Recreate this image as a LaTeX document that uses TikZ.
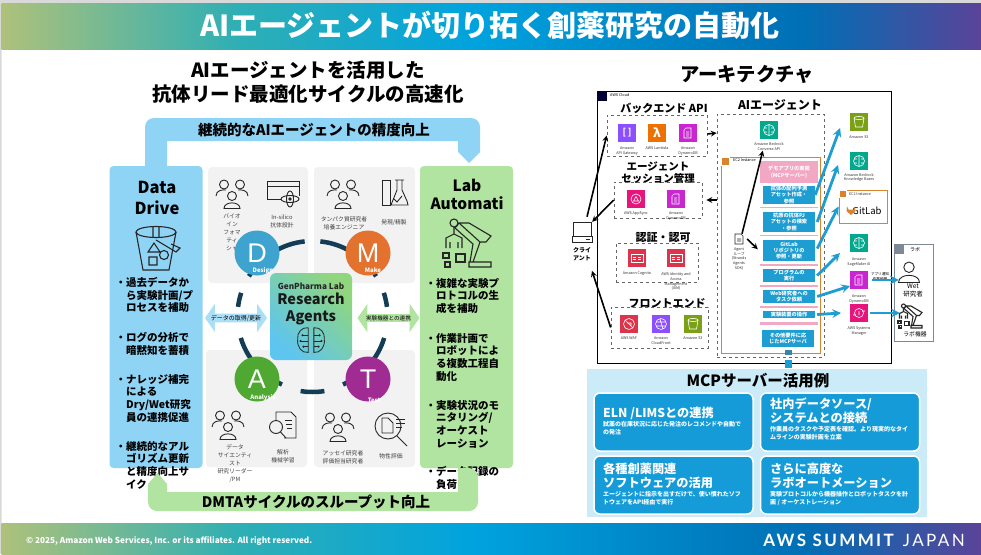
\documentclass[tikz,border=0pt]{standalone}
\usepackage{fontspec}
\setmainfont{Noto Sans CJK JP}
\newfontfamily\awsfont[LetterSpace=14]{Lato}
\newfontfamily\phasefont{Liberation Sans}
\usetikzlibrary{arrows.meta, positioning, shapes.arrows}

\definecolor{datablue}{HTML}{8FD4F5}
\definecolor{labgreen}{HTML}{B1E3A1}
\definecolor{quadgray}{HTML}{F2F2F2}
\definecolor{ringnavy}{HTML}{123D55}
\definecolor{flowblue}{HTML}{1E9DD2}
\definecolor{cardblue}{HTML}{159CD8}
\definecolor{mcpback}{HTML}{CBEBF9}
\definecolor{ecorange}{HTML}{D8832E}
\definecolor{demopink}{HTML}{F2A7C3}
\definecolor{awspurple}{HTML}{8C4FFF}
\definecolor{awsorange}{HTML}{ED7100}
\definecolor{awsmagenta}{HTML}{C925D1}
\definecolor{awspink}{HTML}{E7157B}
\definecolor{awsred}{HTML}{DD344C}
\definecolor{awsgreen}{HTML}{7AA116}
\definecolor{awsteal}{HTML}{01A88D}
\definecolor{labframe}{HTML}{7D8998}
\definecolor{phaseblue}{HTML}{3FA3D0}
\definecolor{phaseorange}{HTML}{E2722E}
\definecolor{phasegreen}{HTML}{4EA832}
\definecolor{phasepurple}{HTML}{A02B93}
\definecolor{agentblue}{HTML}{5EC5F0}
\definecolor{agentgreen}{HTML}{90D67C}
\definecolor{barA}{HTML}{AEC17A}
\definecolor{barB}{HTML}{2FAFB4}
\definecolor{barC}{HTML}{00A3DE}
\definecolor{barD}{HTML}{006FB5}
\definecolor{barE}{HTML}{5A4398}
\pgfdeclarehorizontalshading{awsbar}{100bp}{color(0bp)=(barA); color(25bp)=(barA); color(37bp)=(barB); color(49bp)=(barC); color(66bp)=(barD); color(75bp)=(barE); color(100bp)=(barE)}

\tikzset{
  quad/.style={fill=quadgray, rounded corners=4pt, inner sep=0},
  panel/.style={rounded corners=4pt, inner sep=0, minimum width=93pt, minimum height=302pt},
  phase/.style={circle, minimum size=45pt, inner sep=0, text=white, font=\phasefont\fontsize{27}{27}\selectfont},
  phasetag/.style={text=white, inner sep=0, font=\bfseries\fontsize{6}{6}\selectfont},
  bullet/.style={anchor=north west, align=left, inner sep=0, font=\bfseries\fontsize{10.5}{12.7}\selectfont},
  small/.style={inner sep=0, align=center, text=black!75, font=\fontsize{5.8}{8}\selectfont},
  svc/.style={minimum size=17.5pt, inner sep=0, text=white, font=\bfseries\fontsize{9}{9}\selectfont},
  svclabel/.style={inner sep=0, align=center, text=black!80, font=\fontsize{3.7}{4.9}\selectfont},
  group/.style={draw=black!60, dashed, line width=.7pt, inner sep=0},
  grouptitle/.style={inner sep=0, align=center, font=\bfseries\fontsize{11}{11}\selectfont},
  tool/.style={fill=flowblue, inner sep=0, minimum width=52pt, text=white, align=center, font=\bfseries\fontsize{5.2}{6.3}\selectfont},
  rule/.style={fill=demopink, inner sep=0, minimum width=58pt},
  card/.style={fill=cardblue, draw=white, line width=1.5pt, rounded corners=6pt, inner sep=0, minimum width=159pt, minimum height=58pt},
  cardhead/.style={anchor=west, inner sep=0, align=left, text=white, font=\bfseries\fontsize{12.2}{14}\selectfont},
  cardtext/.style={anchor=west, inner sep=0, align=left, text=white, font=\bfseries\fontsize{6}{8}\selectfont},
  blackflow/.style={-stealth, line width=1.6pt, black},
  blueflow/.style={-stealth, line width=2.8pt, flowblue},
  icon/.style={line width=.9pt, black!85},
  glyph/.style={line width=.6pt, white},
  people/.pic={
    \draw [icon] (-8,-8.5) circle [radius=4.5] (8,-8.5) circle [radius=4.5] (0,3) circle [radius=4.5];
    \draw [icon] (-16,3) .. controls (-16,-3) and (-9,-3.5) .. (-6,-3);
    \draw [icon] (16,3) .. controls (16,-3) and (9,-3.5) .. (6,-3);
    \draw [icon] (-8,15.5) .. controls (-8,8) and (8,8) .. (8,15.5) -- cycle;
  },
  person/.pic={
    \draw [icon] (0,-5) circle [radius=5.5];
    \draw [icon] (-11,11) .. controls (-11,1) and (11,1) .. (11,11) -- cycle;
  },
  windowatom/.pic={
    \draw [icon] (-16,6) -- (-16,-12) -- (16,-12) -- (16,3) (-16,-7) -- (16,-7) (-16,6) -- (-2,6);
    \draw [icon] (7,6) circle [x radius=9, y radius=3.5] (7,6) circle [x radius=3.5, y radius=8];
    \fill [black!85] (7,6) circle [radius=1.8];
  },
  flask/.pic={
    \draw [icon] (-12,-13) -- (-12,12) -- (-4,12) -- (-4,-13) -- cycle;
    \draw [icon] (3,-13) -- (3,-3) -- (-3,12) -- (14,12) -- (13,8) -- (8,-3) -- (8,-13) (1,-13) -- (10,-13) (0,6) -- (3,9) -- (8,3);
  },
  docscan/.pic={
    \draw [icon] (-6,-5) -- (-6,-13) -- (9,-13) -- (14,-8) -- (14,13) -- (2,13);
    \draw [icon] (-6,2) circle [radius=6.5] (-1.5,7) -- (4,13);
    \draw [icon] (3,-5) -- (10,-5) (4,-1) -- (10,-1) (5,3) -- (10,3);
  },
  docglass/.pic={
    \draw [icon] (-3,0) circle [radius=13];
    \draw [icon] (-9,-8) -- (-3,-8) -- (2,-3) -- (2,7) -- (-9,7) -- cycle (6,10) -- (16,20);
    \draw [icon] (5,-7) -- (14,-7) (5,-3) -- (14,-3) (5,1) -- (11,1);
  },
  brain/.pic={
    \draw [icon, line width=.8pt] (-3,-14) .. controls (-10,-15) and (-15,-8) .. (-14,-2) .. controls (-15,6) and (-10,13) .. (-3,12) -- (-3,-14) (3,-14) .. controls (10,-15) and (15,-8) .. (14,-2) .. controls (15,6) and (10,13) .. (3,12) -- (3,-14);
    \draw [icon, line width=.8pt] (-3,-6) -- (-9,-6) (-3,0) -- (-11,0) (-3,6) -- (-8,6) (3,-6) -- (9,-6) (3,0) -- (11,0) (3,6) -- (8,6);
    \fill [black!85] (-9,-6) circle [radius=1.2] (-11,0) circle [radius=1.2] (-8,6) circle [radius=1.2] (9,-6) circle [radius=1.2] (11,0) circle [radius=1.2] (8,6) circle [radius=1.2];
  },
  bigbucket/.pic={
    \draw [icon, line width=1.1pt] (0,-15) circle [x radius=20, y radius=5.5];
    \draw [icon, line width=1.1pt] (-20,-15) -- (-13,23) -- (13,23) -- (20,-15) (-3,-20) -- (-3,-10) (3,-20) -- (3,-10);
    \draw [icon, line width=1.1pt] (-8,5) -- (-2,-4) -- (4,5) -- cycle (-7,10) rectangle (1,18) (8,8) circle [radius=4.5] (0,-7) -- (20,5) -- (24,1) -- (15,-3);
  },
  bigrobot/.pic={
    \draw [icon, line width=1.1pt] (2,22) -- (24,22) -- (24,17) -- (2,17) -- cycle (6,17) -- (13,-3) -- (-8,-22) -- (-12,-17) -- (6,-1) -- (3,17) (13,-3) -- (19,-3) -- (24,-9) -- (2,-22) -- (-8,-22);
    \draw [icon, line width=1.1pt] (-13,-22) circle [radius=4] (-13,-18) -- (-13,-11) (-21,3) -- (-21,-7) -- (-13,-11) -- (-5,-7) -- (-5,3) (-17,3) -- (-17,-3) (-9,3) -- (-9,-3);
    \draw [icon, line width=1.1pt] (-24,8) rectangle (-18,13) (-11,9) rectangle (-2,17) (-22,17) rectangle (-17,22);
  },
  monitor/.pic={
    \draw [icon] (-9,-10) rectangle (9,4) (-10,4) rectangle (10,10);
    \draw [icon] (4,7) -- (8,7);
  },
  sheet/.pic={
    \draw [icon, line width=.6pt] (-4,-5) -- (2,-5) -- (4,-3) -- (4,5) -- (-4,5) -- cycle (-2,0) -- (2,0) (-2,2) -- (2,2);
  },
  gbucket/.pic={
    \draw [glyph] (0,-4) circle [x radius=5, y radius=1.6] (-5,-4) -- (-3.5,5) -- (3.5,5) -- (5,-4);
  },
  gbrain/.pic={
    \draw [glyph] (0,0) circle [radius=5.5] (0,-5.5) -- (0,5.5) (-5,-2) -- (-2,-2) (5,-2) -- (2,-2) (-5,2) -- (-2,2) (5,2) -- (2,2);
  },
  gdb/.pic={
    \draw [glyph] (-4,-3) -- (-4,5) -- (3,5) -- (3,-5) -- (-2,-5) -- cycle (-2,-1) -- (1,-1) (-2,1) -- (1,1) (-2,3) -- (1,3);
  },
  gsync/.pic={
    \draw [glyph] (0,0) circle [radius=5] (-2.5,2) -- (0,-2.5) -- (2.5,2) -- cycle;
  },
  gcard/.pic={
    \draw [glyph] (-6,-4) rectangle (6,4) (-4,-1) -- (-1,-1) (-4,1) -- (-1,1) (1,-1) -- (4,-1) (1,1) -- (4,1);
  },
  gshield/.pic={
    \draw [glyph] (0,0) circle [radius=5.5] (-4,-4) -- (4,4) (-2,-1) -- (2,-1) -- (2,2);
  },
  gglobe/.pic={
    \draw [glyph] (0,0) circle [radius=5.5] (-5,-2) -- (5,-2) (-5,2) -- (5,2) (-1,-5) -- (2,5);
  },
  gcloud/.pic={
    \draw [glyph] (0,0) circle [radius=4.5] (-6,2) -- (-3,2) (3,-2) -- (6,-2) (0,-2) -- (0,2);
  }
}

\begin{document}
\begin{tikzpicture} [x=1pt, y=-1pt, on grid]
\useasboundingbox (0,0) rectangle (981,554);
\fill [white] (0,0) rectangle (981,554);
\fill [black!15] (0,0) rectangle (981,3.5) (0,0) rectangle (1.5,554);

% bars
\shade [shading=awsbar] (1.5,3.5) rectangle (981,49);
\shade [shading=awsbar] (1.5,523) rectangle (981,554);
\node (maintitle) [text=white, inner sep=0, font=\bfseries\fontsize{29}{29}\selectfont] at (490,25) {AIエージェントが切り拓く創薬研究の自動化};
\node (copyright) [anchor=west, text=white, inner sep=0, font=\bfseries\fontsize{8.2}{8.2}\selectfont] at (26,541) {© 2025, Amazon Web Services, Inc. or its affiliates. All right reserved.};
\node (summit) [anchor=east, text=white, inner sep=0, font=\awsfont\fontsize{17}{17}\selectfont] at (965,540) {\textbf{AWS SUMMIT} JAPAN};

\node (lefttitle) [inner sep=0, align=center, font=\bfseries\fontsize{19.5}{24}\selectfont] at (308,82) {AIエージェントを活用した\\抗体リード最適化サイクルの高速化};
\node (righttitle) [inner sep=0, font=\bfseries\fontsize{19.3}{19.3}\selectfont] at (747,74) {アーキテクチャ};

% quadrants
\node (quadD) [quad, minimum width=100pt, minimum height=116pt] at (258,225) {};
\node (quadM) [quad, minimum width=101pt, minimum height=116pt] at (364.5,225) {};
\node (quadA) [quad, minimum width=101pt, minimum height=117pt] at (256.5,408.5) {};
\node (quadT) [quad, minimum width=101pt, minimum height=117pt] at (364.5,408.5) {};

\pic at (232,193) {people};
\pic at (283,193) {windowatom};
\pic at (343,193) {people};
\pic at (394,193) {flask};
\pic at (228,424) {people};
\pic at (282,425) {docscan};
\pic at (338,426) {people};
\pic at (391,426) {docglass};

\node (roleD) [small, anchor=north] at (232,214) {バイオ\\イン\\フォマ\\ティ\\シャ};
\node (workD) [small] at (282,221) {In-silico\\抗体設計};
\node (roleM) [small] at (344,223) {タンパク質研究者\\培養エンジニア};
\node (workM) [small] at (394,223) {発現/精製};
\node (roleA) [small, anchor=north] at (235,444) {データ\\サイエンティ\\スト\\研究リーダー\\/PM};
\node (workA) [small] at (283,456) {解析\\機械学習};
\node (roleT) [small] at (343,457) {アッセイ研究者\\評価担当研究者};
\node (workT) [small] at (391,456) {物性評価};

% ring
\coordinate (ringc) at (312.5,316);
\draw [ringnavy, line width=4.5pt] (ringc) ++(96:75pt) arc [start angle=96, end angle=148, radius=75pt];
\draw [ringnavy, line width=4.5pt] (ringc) ++(32:75pt) arc [start angle=32, end angle=84, radius=75pt];
\draw [ringnavy, line width=4.5pt] (ringc) ++(162:75pt) arc [start angle=162, end angle=173, radius=75pt];
\draw [ringnavy, line width=4.5pt] (ringc) ++(7:75pt) arc [start angle=7, end angle=18, radius=75pt];
\draw [ringnavy, line width=4.5pt] (ringc) ++(197:75pt) arc [start angle=197, end angle=246, radius=75pt];
\draw [ringnavy, line width=4.5pt] (ringc) ++(294:75pt) arc [start angle=294, end angle=343, radius=75pt];
\draw [ringnavy, line width=4.5pt] (ringc) ++(261:76pt) arc [start angle=261, end angle=279, radius=76pt];

\node (phaseD) [phase, fill=phaseblue] at (257,253) {D};
\node (phaseM) [phase, fill=phaseorange] at (368,253) {M};
\node (phaseA) [phase, fill=phasegreen] at (257,379) {A};
\node (phaseT) [phase, fill=phasepurple] at (368,379) {T};
\node (tagD) [phasetag] at (263,271) {Design};
\node (tagM) [phasetag] at (373,270) {Make};
\node (tagA) [phasetag] at (263,398) {Analysis};
\node (tagT) [phasetag] at (374,400) {Test};

% research agents
\node (agents) [rounded corners=6pt, minimum width=82pt, minimum height=87pt, inner sep=0, left color=agentblue, right color=agentgreen, shading angle=135] at (311,316.5) {};
\node (genpharma) [inner sep=0, text=black!85, font=\bfseries\fontsize{8.2}{8.2}\selectfont] at (311,286) {GenPharma Lab};
\node (agentsname) [inner sep=0, align=center, text=black!90, font=\bfseries\fontsize{14.5}{16.5}\selectfont] at (311,309) {Research\\Agents};
\pic [scale=.95] at (311,341) {brain};

\node (dataflow) [double arrow, double arrow head extend=7.5pt, double arrow tip angle=110, fill=datablue!75!white, minimum height=62pt, minimum width=28pt, inner sep=0, font=\fontsize{6}{6}\selectfont] at (236,318) {データの取得/更新};
\node (labflow) [double arrow, double arrow head extend=7.5pt, double arrow tip angle=110, fill=labgreen, minimum height=62pt, minimum width=28pt, inner sep=0, font=\fontsize{5.6}{6}\selectfont] at (388.5,318) {実験機器との連携};

% panels
\node (datapanel) [panel, fill=datablue] at (156,317) {};
\node (labpanel) [panel, fill=labgreen] at (466.5,317) {};
\node (dataname) [inner sep=0, align=center, font=\bfseries\fontsize{16.5}{21}\selectfont] at (157,198) {Data\\Drive};
\node (labname) [inner sep=0, align=center, font=\bfseries\fontsize{15.5}{18}\selectfont] at (467,194) {Lab\\Automati};
\pic at (156,247) {bigbucket};
\pic at (467,245) {bigrobot};

\node (data1) [bullet] at (126,277) {\llap{・}過去データか\\ら実験計画/プ\\ロセスを補助};
\node (data2) [bullet] at (126,332) {\llap{・}ログの分析で\\暗黙知を蓄積};
\node (data3) [bullet] at (126,374) {\llap{・}ナレッジ補完\\による\\Dry/Wet研究\\員の連携促進};
\node (data4) [bullet] at (126,441) {\llap{・}継続的なアル\\ゴリズム更新\\と精度向上サ\\イク};
\node (lab1) [bullet] at (436,278) {\llap{・}複雑な実験プ\\ロトコルの生\\成を補助};
\node (lab2) [bullet] at (436,333) {\llap{・}作業計画で\\ロボットによ\\る複数工程自\\動化};
\node (lab3) [bullet] at (436,400) {\llap{・}実験状況のモ\\ニタリング/\\オーケスト\\レーション};
\node (lab4) [bullet] at (436,466) {\llap{・}データ記録の\\負荷};

% cycle bands
\fill [datablue] (145,166) [rounded corners=9pt] -- (145,118) -- (480,118) [sharp corners] -- (480,152) -- (469,163) -- (458,152) -- (458,141) -- (167,141) -- (167,166) -- cycle;
\fill [labgreen] (148,484) [rounded corners=9pt] -- (148,511) -- (478,511) -- (478,468) [sharp corners] -- (458,468) -- (458,492) -- (167,492) -- (167,484) -- (157.5,473) -- cycle;
\node (topband) [inner sep=0, font=\bfseries\fontsize{14.5}{14.5}\selectfont] at (314,130) {継続的なAIエージェントの精度向上};
\node (bottomband) [inner sep=0, font=\bfseries\fontsize{14.5}{14.5}\selectfont] at (316,502) {DMTAサイクルのスループット向上};

% architecture
\node (cloud) [draw=black, line width=1pt, inner sep=0, minimum width=294pt, minimum height=272pt] at (744,227) {};
\node (cloudtag) [fill=black!80!blue, minimum size=10pt, inner sep=0] at (602,96) {};
\node (cloudname) [anchor=west, inner sep=0, font=\fontsize{3.8}{4}\selectfont] at (610,95) {AWS Cloud};

% backend
\node (backend) [group, minimum width=100pt, minimum height=41pt] at (657,135.5) {};
\node (backendtitle) [grouptitle] at (664,108) {バックエンド API};
\node (apigw) [svc, fill=awspurple] at (627,133) {[\,]};
\node (lambda) [svc, fill=awsorange, right = 30pt of apigw, font=\bfseries\fontsize{12}{12}\selectfont] {λ};
\node (ddb1) [svc, fill=awsmagenta, right = 31pt of lambda] {};
\pic at (ddb1) {gdb};
\node (apigwlabel) [svclabel, below = 18pt of apigw] {Amazon\\API Gateway};
\node (lambdalabel) [svclabel, below = 15pt of lambda] {AWS Lambda};
\node (ddb1label) [svclabel, below = 18pt of ddb1] {Amazon\\DynamoDB};

% session
\node (sessiontitle) [grouptitle, align=center, font=\bfseries\fontsize{10.5}{12}\selectfont] at (658,173) {エージェント\\セッション管理};
\node (session) [group, minimum width=88pt, minimum height=36pt] at (658,200) {};
\node (appsync) [svc, fill=awspink] at (636,199) {};
\pic at (appsync) {gsync};
\node (ddb2) [svc, fill=awsmagenta, right = 40pt of appsync] {};
\pic at (ddb2) {gdb};
\node (appsynclabel) [svclabel, below = 15pt of appsync] {AWS AppSync};
\node (ddb2label) [svclabel, below = 17.5pt of ddb2] {Amazon\\DynamoDB};

% auth
\node (authtitle) [grouptitle] at (663,237) {認証・認可};
\node (auth) [group, minimum width=82pt, minimum height=39pt] at (657,262.5) {};
\node (cognito) [svc, fill=awsred] at (637,258) {};
\pic at (cognito) {gcard};
\node (iam) [svc, fill=awsred, right = 39pt of cognito] {};
\pic at (iam) {gcard};
\node (cognitolabel) [svclabel, below = 16pt of cognito] {Amazon Cognito};
\node (iamlabel) [svclabel, below = 23.5pt of iam] {AWS Identity and\\Access\\Management\\(IAM)};

% front
\node (fronttitle) [grouptitle] at (667,303) {フロントエンド};
\node (front) [group, minimum width=97pt, minimum height=41pt] at (659.5,327.5) {};
\node (waf) [svc, fill=awsred] at (629,324) {};
\pic at (waf) {gshield};
\node (cloudfront) [svc, fill=awspurple, right = 32pt of waf] {};
\pic at (cloudfront) {gglobe};
\node (s3front) [svc, fill=awsgreen, right = 32pt of cloudfront] {};
\pic at (s3front) {gbucket};
\node (waflabel) [svclabel, below = 14pt of waf] {AWS WAF};
\node (cloudfrontlabel) [svclabel, below = 16.5pt of cloudfront] {Amazon\\CloudFront};
\node (s3frontlabel) [svclabel, below = 14pt of s3front] {Amazon S3};

% client
\pic at (582,232) {monitor};
\node (client) [minimum width=20pt, minimum height=20pt, inner sep=0] at (582,232) {};
\node (clientlabel) [inner sep=0, align=center, font=\bfseries\fontsize{6}{8}\selectfont] at (582,254) {クライ\\アント};

% agent
\node (agentbox) [group, minimum width=107pt, minimum height=243pt] at (770.5,235.5) {};
\node (agenttitle) [grouptitle, font=\bfseries\fontsize{12}{12}\selectfont] at (780,105) {AIエージェント};
\node (bedrock) [svc, fill=awsteal] at (769,130) {};
\pic at (bedrock) {gbrain};
\node (bedrocklabel) [svclabel, below = 16.5pt of bedrock] {Amazon Bedrock\\Converse API};
\node (ec2) [draw=ecorange, line width=1pt, inner sep=0, minimum width=99pt, minimum height=196pt] at (770.5,255) {};
\node (ec2tag) [draw=white, line width=.7pt, fill=ecorange, minimum size=8pt, inner sep=0] at (725.5,161.5) {};
\node (ec2name) [anchor=west, inner sep=0, font=\fontsize{3.8}{4}\selectfont] at (733,160) {EC2 Instance};

\node (demo) [fill=demopink, inner sep=0, minimum width=58pt, minimum height=22pt, text=white, align=center, font=\bfseries\fontsize{5.2}{7}\selectfont] at (789,172) {デモアプリの実装\\(MCPサーバー)};
\node (tool1) [tool, minimum height=18pt] at (789,195) {抗体の配列予測\\アセット作成・\\参照};
\node (rule1) [rule, minimum height=1.5pt] at (789,207.7) {};
\node (tool2) [tool, minimum height=20pt] at (789,222) {抗原の抗体PJ\\アセットの検索\\・参照};
\node (rule2) [rule, minimum height=1.5pt] at (789,235.5) {};
\node (tool3) [tool, minimum height=21pt] at (789,250.5) {GitLab\\リポジトリの\\参照・更新};
\node (rule3) [rule, minimum height=2pt] at (789,265) {};
\node (tool4) [tool, minimum height=13pt] at (789,275.5) {プログラムの\\実行};
\node (rule4) [rule, minimum height=2pt] at (789,286) {};
\node (tool5) [tool, minimum height=13pt] at (789,296.5) {Web研究者への\\タスク依頼};
\node (rule5) [rule, minimum height=2pt] at (789,307) {};
\node (tool6) [tool, minimum height=7pt] at (789,314.5) {実験装置の操作};
\node (rule6) [rule, minimum height=3pt] at (789,323.5) {};
\node (tool7) [tool, minimum height=17pt] at (788,338.5) {その他要件に応\\じたMCPサーバ};
\node (stub1) [fill=flowblue!70!black!85!white, minimum width=7pt, minimum height=5pt, inner sep=0] at (788.5,352.5) {};
\node (stub2) [fill=flowblue, minimum width=7pt, minimum height=8pt, inner sep=0] at (788.5,364) {};

\pic at (739,239) {sheet};
\node (loop) [minimum size=10pt, inner sep=0] at (739,239) {};
\node (looplabel) [svclabel, below = 20pt of loop] {Agent\\ループ\\(Strands\\Agents\\SDK)};

% services
\node (s3) [svc, fill=awsgreen] at (859,122) {};
\pic at (s3) {gbucket};
\node (s3label) [svclabel, below = 15pt of s3] {Amazon S3};
\node (kb) [svc, fill=awsteal] at (859,161) {};
\pic at (kb) {gbrain};
\node (kblabel) [svclabel, below = 16.5pt of kb] {Amazon Bedrock\\Knowledge Bases};
\node (gitlab) [draw=ecorange, line width=1pt, inner sep=0, minimum width=48pt, minimum height=33pt] at (863,206.5) {};
\node (gitlabtag) [draw=white, line width=.7pt, fill=ecorange, minimum size=7pt, inner sep=0] at (843,194) {};
\node (gitlabname) [svclabel] at (860,194) {EC2 Instance};
\node (gitlablogo) [inner sep=0, font=\fontsize{9.5}{10}\selectfont] at (867,211) {GitLab};
\fill [ecorange] (847,206.5) -- (848.5,209.5) -- (853.5,209.5) -- (855,206.5) -- (855.5,211) -- (851,215) -- (846.5,211) -- cycle;
\node (sagemaker) [svc, fill=awsteal] at (859,243) {};
\pic at (sagemaker) {gbrain};
\node (sagemakerlabel) [svclabel, below = 19pt of sagemaker] {Amazon\\SageMaker AI};
\node (ddb3) [svc, fill=awsmagenta] at (859,280) {};
\pic at (ddb3) {gdb};
\node (ddb3label) [svclabel, below = 19pt of ddb3] {Amazon\\DynamoDB};
\node (ssm) [svc, fill=awspink] at (859,313) {};
\pic at (ssm) {gcloud};
\node (ssmlabel) [svclabel, below = 18pt of ssm] {AWS Systems\\Manager};

% lab
\node (labbox) [draw=labframe, line width=1pt, inner sep=0, minimum width=39pt, minimum height=97pt] at (913.5,292.5) {};
\node (labtag) [fill=labframe, minimum size=10pt, inner sep=0] at (899,249) {};
\node (labtitle) [inner sep=0, font=\fontsize{5}{5}\selectfont] at (915,250) {ラボ};
\pic [scale=.95] at (909,272) {person};
\node (wet) [minimum size=20pt, inner sep=0] at (909,272) {};
\node (wetlabel) [inner sep=0, align=center, font=\fontsize{6.5}{8}\selectfont] at (913,290) {Wet\\研究者};
\pic [scale=.5] at (910,317) {bigrobot};
\node (labrobot) [minimum size=20pt, inner sep=0] at (910,317) {};
\node (labrobotlabel) [inner sep=0, font=\fontsize{5.8}{6}\selectfont] at (915,334) {ラボ機器};
\node (notice) [inner sep=0, align=center, font=\fontsize{3.6}{5}\selectfont] at (880,276.5) {アプリ通知\\作業依頼};

% black connectors
\path [blackflow]
  ([xshift=5pt,yshift=5pt]client.north) edge (backend.west);
\path [blackflow]
  (session.west) edge (client.north east);
\path [blackflow]
  (front.west) edge ([xshift=10pt,yshift=-10pt]clientlabel.south);
\path [blackflow]
  ([yshift=1.5pt]backend.east) edge (agentbox.west |- lambda);
\path [blackflow]
  (agentbox.west |- session) edge ([xshift=4pt]session.east);
\path [blackflow]
  ([xshift=3pt]loop.north) edge (bedrocklabel.south -| tool1.west);
\path [blackflow]
  ([xshift=3pt]loop.east) edge ([xshift=-5pt,yshift=-9.5pt]tool3.north west);

% blue connectors
\path [blueflow]
  (tool1.east) edge ([xshift=-10pt,yshift=-6pt]s3.west);
\path [blueflow]
  ([xshift=2pt]tool2.east) edge ([xshift=-12pt,yshift=-4pt]kb.west);
\path [blueflow]
  ([xshift=2pt,yshift=2pt]tool3.east) edge (gitlab.west);
\path [blueflow]
  ([xshift=2pt]tool4.east) edge ([xshift=-10pt,yshift=-10pt]sagemaker.west);
\path [blueflow]
  ([xshift=2pt]tool5.east) edge ([yshift=-6pt]ddb3.west);
\path [blueflow]
  ([xshift=2pt]tool6.east) edge ([xshift=-9pt]ssm.west);
\path [blueflow]
  ([xshift=4pt]ddb3.east) edge (wet.west |- ddb3);
\path [blueflow]
  ([xshift=2pt]ssm.east) edge (labrobot.west |- ssm);

% mcp
\node (mcp) [fill=mcpback, inner sep=0, minimum width=340pt, minimum height=148pt] at (757,443) {};
\node (mcptitle) [inner sep=0, font=\bfseries\fontsize{15.5}{15.5}\selectfont] at (758,381) {MCPサーバー活用例};
\node (card1) [card] at (673.5,422) {};
\node (card2) [card, right = 166.5pt of card1] {};
\node (card3) [card, below = 63pt of card1] {};
\node (card4) [card, right = 166.5pt of card3] {};
\node (card1head) [cardhead] at (603,413) {ELN /LIMSとの連携};
\node (card1text) [cardtext] at (603,428) {試薬の在庫状況に応じた発注のレコメンドや自動で\\の発注};
\node (card2head) [cardhead] at (770,411) {社内データソース/\\システムとの接続};
\node (card2text) [cardtext] at (770,433) {作業員のタスクや予定表を確認。より現実的なタイ\\ムラインの実験計画を立案};
\node (card3head) [cardhead] at (603,476) {各種創薬関連\\ソフトウェアの活用};
\node (card3text) [cardtext] at (603,498) {エージェントに指示を出すだけで、使い慣れたソフ\\トウェアをAPI経由で実行};
\node (card4head) [cardhead] at (770,476) {さらに高度な\\ラボオートメーション};
\node (card4text) [cardtext] at (770,498) {実験プロトコルから機器操作とロボットタスクを計\\画 / オーケストレーション};

\end{tikzpicture}
\end{document}
